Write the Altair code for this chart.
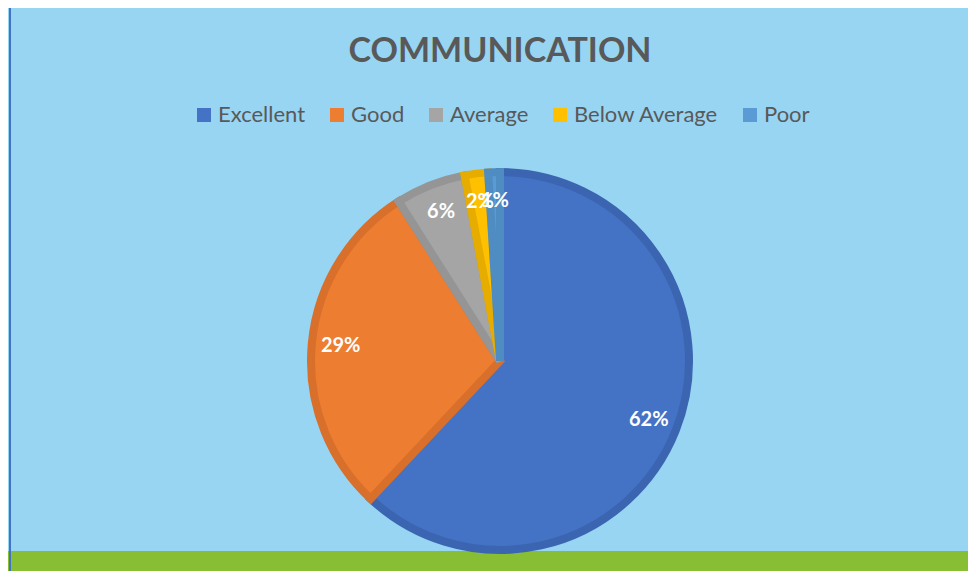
import altair as alt
import pandas as pd

categories = ["Excellent", "Good", "Average", "Below Average", "Poor"]
values = [62, 29, 6, 2, 1]
labels = ["62%", "29%", "6%", "2%", "1%"]
fill_colors = ["#4472c4", "#ed7d31", "#a5a5a5", "#ffc000", "#5b9bd5"]
edge_colors = ["#3b65b1", "#d86f2b", "#959595", "#e6ad00", "#4f8cc2"]
title_text = "COMMUNICATION"

df = pd.DataFrame({"category": categories, "value": values, "label": labels,
                   "order": list(range(len(categories)))})

W, H = 960, 563
CX, CY = 492, 353

base = alt.Chart(df).encode(
    theta=alt.Theta("value:Q", stack=True),
    order=alt.Order("order:Q"),
    x=alt.value(CX), y=alt.value(CY),
)

pie = base.mark_arc(outerRadius=189, strokeWidth=8, strokeJoin="miter").encode(
    fill=alt.Fill("category:N", sort=categories,
                  scale=alt.Scale(domain=categories, range=fill_colors),
                  legend=alt.Legend(orient="none", legendX=185, legendY=96,
                                    direction="horizontal", title=None,
                                    symbolType="square", symbolSize=196,
                                    symbolStrokeWidth=0,
                                    labelFont="Lato", labelFontSize=22,
                                    labelColor="#595959", columnPadding=20,
                                    labelOffset=3)),
    stroke=alt.Stroke("category:N", sort=categories,
                      scale=alt.Scale(domain=categories, range=edge_colors),
                      legend=None),
)

text = base.mark_text(radius=160, font="Lato", fontSize=20, fontWeight="bold",
                      color="white").encode(text="label:N")

title = alt.Chart(alt.Data(values=[{"t": title_text}])).mark_text(
    font="Lato", fontSize=34, fontWeight="bold", color="#595959"
).encode(text="t:N", x=alt.value(CX), y=alt.value(44))

green = alt.Chart(alt.Data(values=[{}])).mark_rect(color="#87be34").encode(
    x=alt.value(0), x2=alt.value(W), y=alt.value(543), y2=alt.value(H))

border = alt.Chart(alt.Data(values=[{}])).mark_rule(color="#4472c4", strokeWidth=2).encode(
    x=alt.value(2), y=alt.value(0), y2=alt.value(H))

chart = alt.layer(green, border, pie, text, title).properties(
    width=W, height=H, background="#97d5f3", padding=0, autosize="none"
).configure_view(stroke=None)

chart.save("out.html", embed_options={"renderer": "svg", "actions": False})
